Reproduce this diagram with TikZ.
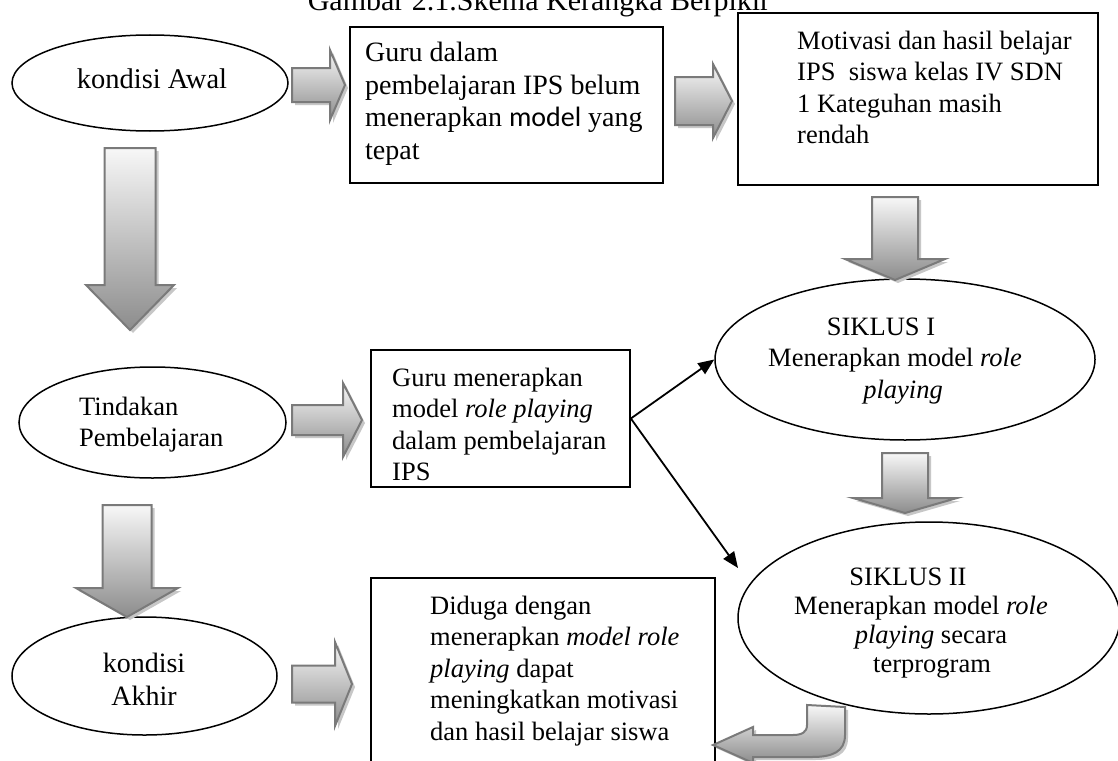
\documentclass[tikz,border=0pt]{standalone}
\usepackage{fontspec}
\setmainfont{Liberation Serif}
\newfontfamily\calfont{Carlito}
\usetikzlibrary{shapes.geometric,arrows.meta}

% right-pointing block arrow: tail x, head base x, tip x, centre y, shaft half, head half
\newcommand\RArrow[6]{%
  \fill[bshadow,xshift=3pt,yshift=-3pt] (#1,{-(#4)+(#5)}) -- (#2,{-(#4)+(#5)}) -- (#2,{-(#4)+(#6)}) -- (#3,{-(#4)}) -- (#2,{-(#4)-(#6)}) -- (#2,{-(#4)-(#5)}) -- (#1,{-(#4)-(#5)}) -- cycle;
  \path[barrow] (#1,{-(#4)+(#5)}) -- (#2,{-(#4)+(#5)}) -- (#2,{-(#4)+(#6)}) -- (#3,{-(#4)}) -- (#2,{-(#4)-(#6)}) -- (#2,{-(#4)-(#5)}) -- (#1,{-(#4)-(#5)}) -- cycle;
}
% down-pointing block arrow: centre x, top y, head base y, tip y, shaft half, head half
\newcommand\DArrow[6]{%
  \fill[bshadow,xshift=3pt,yshift=-3pt] ({#1-(#5)},-#2) -- ({#1-(#5)},-#3) -- ({#1-(#6)},-#3) -- (#1,-#4) -- ({#1+(#6)},-#3) -- ({#1+(#5)},-#3) -- ({#1+(#5)},-#2) -- cycle;
  \path[barrow] ({#1-(#5)},-#2) -- ({#1-(#5)},-#3) -- ({#1-(#6)},-#3) -- (#1,-#4) -- ({#1+(#6)},-#3) -- ({#1+(#5)},-#3) -- ({#1+(#5)},-#2) -- cycle;
}

\begin{document}
\begin{tikzpicture}[x=1pt,y=1pt,
  boxn/.style={draw, line width=1.7pt, rectangle, inner sep=0pt},
  elln/.style={draw, line width=1.5pt, ellipse, inner sep=0pt},
  txt/.style={inner sep=0pt, font=\fontsize{26.5}{31.5}\selectfont, align=left, anchor=north west},
  ctxt/.style={inner sep=0pt, font=\fontsize{26.5}{31.5}\selectfont, align=center, anchor=north},
  thinarr/.style={line width=1.8pt, -{Triangle[length=16pt,width=13pt]}},
  barrow/.style={top color=black!3, bottom color=black!45, draw=black!52, line width=2pt, line join=miter},
  bshadow/.style={fill=black!22},
]
\useasboundingbox (0,0) rectangle (1118,-760);
\fill[white] (0,0) rectangle (1118,-760);

% title (cut at the top edge, as in the source)
\node[inner sep=0pt, anchor=base, font=\fontsize{30}{36}\selectfont] (title) at (539,-11) {Gambar 2.1.Skema Kerangka Berpikir};

% ellipses
\node[elln, minimum width=276pt, minimum height=96pt] (e1) at (150,-83) {};
\node[elln, minimum width=267pt, minimum height=111pt] (e2) at (152.5,-422.5) {};
\node[elln, minimum width=265pt, minimum height=118pt] (e3) at (144.5,-676) {};
\node[elln, minimum width=380pt, minimum height=161pt] (e4) at (905,-359.5) {};
\node[elln, minimum width=382pt, minimum height=192pt] (e5) at (929,-618) {};

% boxes
\node[boxn, minimum width=313pt, minimum height=156pt] (b1) at (506.5,-105) {};
\node[boxn, minimum width=360pt, minimum height=172pt] (b2) at (918,-99) {};
\node[boxn, minimum width=259pt, minimum height=137pt] (b3) at (500.5,-418.5) {};
\node[boxn, minimum width=344pt, minimum height=222pt] (b4) at (543,-689) {};

% texts
\node[inner sep=0pt, anchor=base, font=\fontsize{28.5}{33}\selectfont] (te1) at (152,-88) {kondisi Awal};
\node[txt] (te2) at (79,-393) {\strut Tindakan\\Pembelajaran};
\node[ctxt, font=\fontsize{28}{33}\selectfont] (te3) at (144,-649) {\strut kondisi\\Akhir};
\node[ctxt] (te4) at (895,-313) {\strut SIKLUS I\hspace*{28pt}\\Menerapkan model \textit{role}\\\hspace*{16pt}\textit{playing}};
\node[ctxt, font=\fontsize{26.5}{29}\selectfont] (te5) at (921,-565) {\strut SIKLUS II\hspace*{26pt}\\Menerapkan model \textit{role}\\\hspace*{20pt}\textit{playing} secara\\\hspace*{22pt}terprogram};
\node[txt, font=\fontsize{28}{32.5}\selectfont] (tb1) at (365,-39) {\strut Guru dalam\\pembelajaran IPS belum\\menerapkan {\calfont model} yang\\tepat};
\node[txt] (tb2) at (797,-27) {\strut Motivasi dan hasil belajar\\IPS\ \ siswa kelas IV SDN\\1 Kateguhan masih\\rendah};
\node[txt] (tb3) at (392,-364) {\strut Guru menerapkan\\model \textit{role playing}\\dalam pembelajaran\\IPS};
\node[txt] (tb4) at (430,-592) {\strut Diduga dengan\\menerapkan \textit{model role}\\\textit{playing} dapat\\meningkatkan motivasi\\dan hasil belajar siswa};

% block arrows
\RArrow{292}{330}{345}{85}{17}{35}
\RArrow{675}{713}{732}{101}{24}{37}
\RArrow{292}{343}{362}{420}{15}{37}
\RArrow{292}{335}{352}{684}{18.5}{42}
\DArrow{130}{148}{285}{330}{25.5}{44}
\DArrow{127}{505}{588}{617}{24.5}{51}
\DArrow{895}{197}{259}{280}{23}{50}
\DArrow{905}{453}{498}{513}{23}{52}

% U-turn arrow back to the last box
\fill[bshadow,xshift=3pt,yshift=-3pt] (807,-705) -- (845,-707) -- (845,-735) .. controls (845,-752) and (832,-757) .. (812,-757) -- (753,-757) -- (753,-763) -- (713,-745) -- (753,-727) -- (753,-735) -- (793,-735) .. controls (802,-735) and (807,-732) .. (807,-725) -- cycle;
\path[barrow] (807,-705) -- (845,-707) -- (845,-735) .. controls (845,-752) and (832,-757) .. (812,-757) -- (753,-757) -- (753,-763) -- (713,-745) -- (753,-727) -- (753,-735) -- (793,-735) .. controls (802,-735) and (807,-732) .. (807,-725) -- cycle;

% thin arrows
\coordinate (t2end) at (738,-568);
\draw[thinarr] (b3.east) -- (e4.west);
\draw[thinarr] (b3.east) -- (t2end);
\end{tikzpicture}
\end{document}
